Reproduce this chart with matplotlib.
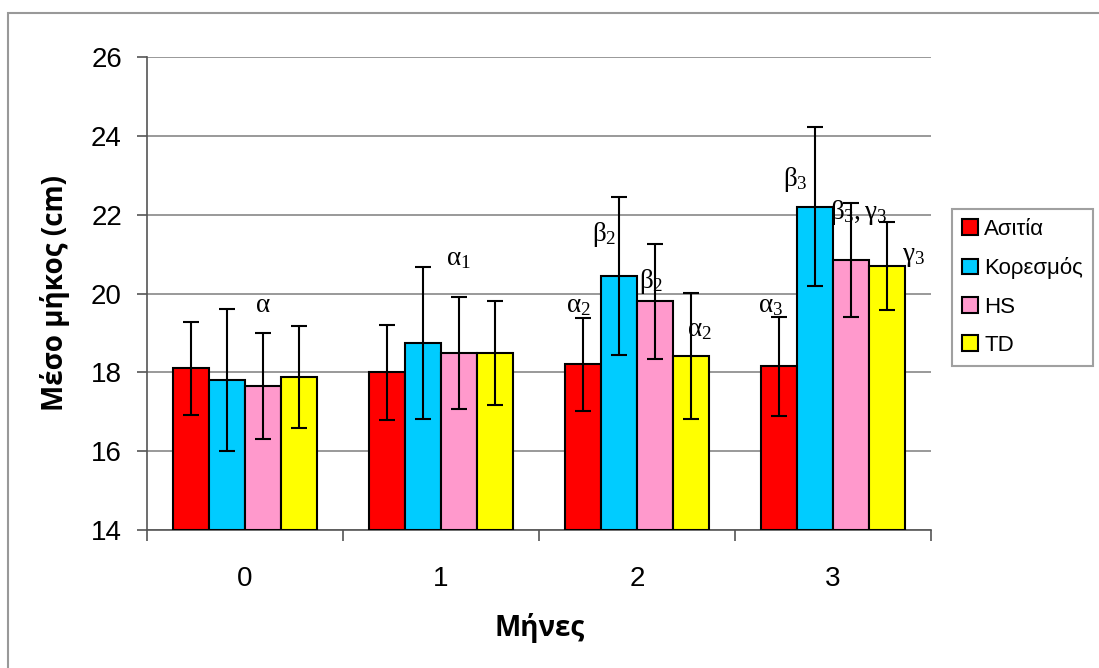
import matplotlib
matplotlib.use("Agg")
import matplotlib.pyplot as plt
import numpy as np
from matplotlib.patches import Rectangle

plt.rcParams['font.family'] = ['Liberation Sans', 'DejaVu Sans']
plt.rcParams['mathtext.fontset'] = 'custom'
plt.rcParams['mathtext.rm'] = 'Liberation Serif'
plt.rcParams['mathtext.it'] = 'Liberation Serif'

months = ['0', '1', '2', '3']
series_names = ['Ασιτία', 'Κορεσμός', 'HS', 'TD']
asitia = [18.1, 18.0, 18.2, 18.15]
koresmos = [17.8, 18.75, 20.45, 22.2]
hs = [17.65, 18.5, 19.8, 20.85]
td = [17.88, 18.48, 18.42, 20.7]
asitia_err = [1.17, 1.2, 1.18, 1.25]
koresmos_err = [1.8, 1.93, 2.0, 2.02]
hs_err = [1.35, 1.42, 1.45, 1.44]
td_err = [1.3, 1.32, 1.6, 1.12]
colors = ['#FF0000', '#00CCFF', '#FF99CC', '#FFFF00']

# annotation labels (text, x in category units, y in data units)
ann_texts = [r'$\alpha$', r'$\alpha_1$', r'$\alpha_2$', r'$\beta_2$', r'$\beta_2$', r'$\alpha_2$',
             r'$\alpha_3$', r'$\beta_3$', r'$\beta_3,\gamma_3$', r'$\gamma_3$']
ann_x = [0.09, 1.09, 1.70, 1.83, 2.07, 2.32, 2.68, 2.81, 3.13, 3.41]
ann_y = [19.7, 20.9, 19.7, 21.5, 20.3, 19.1, 19.7, 22.9, 22.05, 20.95]

W, H = 1099, 668
fig = plt.figure(figsize=(W / 100, H / 100), dpi=100)
ax = fig.add_axes([147 / W, 1 - 530 / H, (931 - 147) / W, (530 - 57) / H])

values = [asitia, koresmos, hs, td]
errs = [asitia_err, koresmos_err, hs_err, td_err]
x = np.arange(len(months))
bw = 0.184
handles = []
for i, (vals, e, c, name) in enumerate(zip(values, errs, colors, series_names)):
    pos = x + (i - 1.5) * bw
    b = ax.bar(pos, np.array(vals) - 14, bottom=14, width=bw, color=c, edgecolor='black',
               linewidth=1.5, label=name, zorder=3)
    ax.errorbar(pos, vals, yerr=e, fmt='none', ecolor='black', elinewidth=1.5,
                capsize=6, capthick=1.5, zorder=4)
    handles.append(b)

for t, tx, ty in zip(ann_texts, ann_x, ann_y):
    ax.text(tx, ty, t, ha='center', va='center', fontsize=19.5, zorder=5)

ax.set_xlim(-0.5, 3.5)
ax.set_ylim(14, 26)
ax.set_yticks(np.arange(14, 27, 2))
ax.set_xticks(x)
ax.set_xticklabels(months)
ax.set_xticks(np.arange(-0.5, 3.6, 1), minor=True)
ax.tick_params(axis='x', which='major', length=0, pad=26, labelsize=20)
ax.tick_params(axis='x', which='minor', length=8, width=1.2, color='#555555', direction='out')
ax.tick_params(axis='y', length=7, width=1.2, color='#555555', pad=11, labelsize=20)
ax.yaxis.grid(True, color='#888888', linewidth=1.2, zorder=0)
ax.set_axisbelow(True)
for s in ['top', 'right']:
    ax.spines[s].set_visible(False)
for s in ['left', 'bottom']:
    ax.spines[s].set_color('#555555')
    ax.spines[s].set_linewidth(1.2)

fig.text(55 / W, 1 - 293 / H, 'Μέσο μήκος (cm)', rotation=90, ha='center', va='center',
         fontsize=20, fontweight='bold', family=['Open Sans', 'DejaVu Sans'])
fig.text(540 / W, 1 - 628 / H, 'Μήνες', ha='center', va='center', fontsize=20,
         fontweight='bold', family=['Open Sans', 'DejaVu Sans'])

leg = fig.legend(handles=handles, labels=series_names, loc='upper left',
                 bbox_to_anchor=(952 / W, 1 - 209 / H), frameon=True, fancybox=False,
                 fontsize=16, handlelength=0.7, handleheight=0.7, handletextpad=0.3,
                 labelspacing=0.78, borderpad=0.45, borderaxespad=0)
leg.get_frame().set_edgecolor('#888888')
leg.get_frame().set_linewidth(1.5)

fig.patches.append(Rectangle((8 / W, -0.1), 1.2, 1.1 - 13 / H, transform=fig.transFigure,
                             fill=False, edgecolor='#999999', linewidth=1.5))

fig.savefig('out.png', dpi=100)
